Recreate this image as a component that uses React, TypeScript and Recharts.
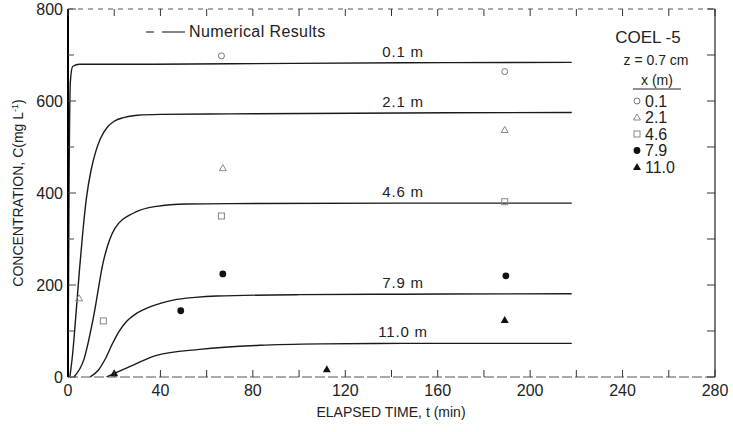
import React from 'react';
import { ComposedChart, Line, Scatter, XAxis, YAxis, LabelList } from 'recharts';

const FONT = '"Liberation Sans", Arial, sans-serif';
const INK = '#222';

// curve labels (distance x, m) and the time at which they are written
const curveNames = ['0.1 m', '2.1 m', '4.6 m', '7.9 m', '11.0 m'];
const legendNames = ['0.1', '2.1', '4.6', '7.9', '11.0'];
const labelT = 145;

// numerical results, t (min) vs C (mg/L)
const t01 = [0, 0.5, 1, 2, 5, 30, 70, 145, 218];
const c01 = [0, 450, 640, 675, 680, 680, 681, 683, 684];
const t21 = [0.8, 2, 3.5, 5, 6.5, 8, 10, 12, 14, 17, 20, 24, 30, 40, 70, 145, 218];
const c21 = [0, 50, 140, 235, 320, 390, 450, 490, 518, 543, 556, 564, 569, 571, 572, 574, 575];
const t46 = [2.5, 7, 10.9, 15.3, 20.3, 28.2, 38.3, 51.3, 70, 145, 218];
const c46 = [0, 40, 127, 251, 323, 356, 371, 376, 377, 378, 378];
const t79 = [9.5, 13, 16, 19, 22, 25.4, 29, 33, 40, 45.5, 55, 64.3, 100, 145, 218];
const c79 = [0, 14, 38, 70, 98, 121, 136, 147, 160, 167, 173, 176, 179, 180, 181];
const t110 = [16.7, 22, 28.2, 38.3, 57, 83, 110, 145, 218];
const c110 = [0, 12, 26, 47, 60, 69, 72, 73, 73];

// measured values
const m01t = [66.4, 189];
const m01c = [698, 664];
const m21t = [4.8, 67, 189];
const m21c = [171, 454, 537];
const m46t = [15.3, 66.4, 189];
const m46c = [122, 350, 381];
const m79t = [48.8, 67, 189.5];
const m79c = [144, 224, 220];
const m110t = [20, 112, 189];
const m110c = [8, 17, 124];

// ticks
const xTicks = [0, 20, 40, 60, 80, 100, 120, 140, 160, 180, 200, 220, 240, 260, 280];
const yTicks = [0, 100, 200, 300, 400, 500, 600, 700, 800];

const curve = (ts: number[], cs: number[], name: string) =>
  ts.map((t, i) => ({ t, c: cs[i], label: t === labelT ? name : undefined }));
const points = (ts: number[], cs: number[]) => ts.map((t, i) => ({ t, c: cs[i] }));

const curves = [
  curve(t01, c01, curveNames[0]),
  curve(t21, c21, curveNames[1]),
  curve(t46, c46, curveNames[2]),
  curve(t79, c79, curveNames[3]),
  curve(t110, c110, curveNames[4]),
];

const measured = [
  points(m01t, m01c),
  points(m21t, m21c),
  points(m46t, m46c),
  points(m79t, m79c),
  points(m110t, m110c),
];

// marker glyphs
const OpenCircle = ({ cx, cy }: any) => <circle cx={cx} cy={cy} r={3} fill="#fff" stroke="#777" strokeWidth={1} />;
const OpenTriangle = ({ cx, cy }: any) => (
  <polygon points={`${cx},${cy - 3.5} ${cx - 3.5},${cy + 2.5} ${cx + 3.5},${cy + 2.5}`} fill="none" stroke="#888" strokeWidth={1} />
);
const OpenSquare = ({ cx, cy }: any) => (
  <rect x={cx - 3} y={cy - 3} width={6} height={6} fill="none" stroke="#888" strokeWidth={1} />
);
const Dot = ({ cx, cy }: any) => <circle cx={cx} cy={cy} r={3.4} fill="#111" />;
const SolidTriangle = ({ cx, cy }: any) => (
  <polygon points={`${cx},${cy - 4} ${cx - 4},${cy + 3} ${cx + 4},${cy + 3}`} fill="#111" />
);
const shapes = [OpenCircle, OpenTriangle, OpenSquare, Dot, SolidTriangle];

const LeftTick = ({ x, y, payload }: any) => {
  const major = payload.value % 200 === 0;
  return (
    <g>
      <line x1={x} x2={x + (major ? 8 : 6)} y1={y} y2={y} stroke="#444" strokeWidth={1} />
      {major && (
        <text x={x - 5} y={y} dy={5.5} textAnchor="end" fontSize={16} fontFamily={FONT} fill={INK}>
          {payload.value}
        </text>
      )}
    </g>
  );
};

const RightTick = ({ x, y }: any) => <line x1={x} x2={x - 8} y1={y} y2={y} stroke="#333" strokeWidth={1} />;

const BottomTick = ({ x, y, payload }: any) => (
  <g>
    {payload.value > 0 && <line x1={x} x2={x} y1={y} y2={y - 7} stroke="#333" strokeWidth={1} />}
    {payload.value % 40 === 0 && (
      <text x={x} y={y + 19} textAnchor="middle" fontSize={16} fontFamily={FONT} fill={INK}>
        {payload.value}
      </text>
    )}
  </g>
);

const TopTick = ({ x, y }: any) => <line x1={x} x2={x} y1={y} y2={y + 7} stroke="#333" strokeWidth={1} />;

const CurveLabel = ({ x, y, value }: any) =>
  value ? (
    <text x={x} y={y - 6} textAnchor="middle" fontSize={15} fontFamily={FONT} fill={INK} letterSpacing={0.8}>
      {value}
    </text>
  ) : null;

export default function App() {
  return (
    <div style={{ position: 'relative', width: 733, height: 432, background: '#fff' }}>
      <style>{'body{margin:0}'}</style>
      <ComposedChart width={733} height={432} margin={{ top: 8, right: 0, bottom: 25, left: 8 }}>
        <XAxis
          dataKey="t"
          type="number"
          domain={[0, 280]}
          ticks={xTicks}
          interval={0}
          height={30}
          tickSize={0}
          tickMargin={0}
          tickLine={false}
          tick={<BottomTick />}
          axisLine={{ stroke: '#555', strokeWidth: 1, strokeDasharray: '10 3' }}
          allowDataOverflow
        />
        <XAxis
          xAxisId="top"
          orientation="top"
          dataKey="t"
          type="number"
          domain={[0, 280]}
          ticks={xTicks}
          interval={0}
          height={1}
          tickSize={0}
          tickMargin={0}
          tickLine={false}
          tick={<TopTick />}
          axisLine={{ stroke: '#555', strokeWidth: 1, strokeDasharray: '5 5' }}
          allowDataOverflow
        />
        <YAxis
          dataKey="c"
          type="number"
          domain={[0, 800]}
          ticks={yTicks}
          interval={0}
          width={60}
          tickSize={0}
          tickMargin={0}
          tickLine={false}
          tick={<LeftTick />}
          axisLine={{ stroke: '#000', strokeWidth: 2 }}
          allowDataOverflow
        />
        <YAxis
          yAxisId="right"
          orientation="right"
          type="number"
          domain={[0, 800]}
          ticks={yTicks}
          interval={0}
          width={18}
          tickSize={0}
          tickMargin={0}
          tickLine={false}
          tick={<RightTick />}
          axisLine={{ stroke: '#222', strokeWidth: 1.2 }}
          allowDataOverflow
        />
        {curves.map((d, i) => (
          <Line
            key={`curve-${i}`}
            data={d}
            dataKey="c"
            type="monotone"
            stroke="#1a1a1a"
            strokeWidth={1.4}
            dot={false}
            activeDot={false}
            isAnimationActive={false}
          >
            <LabelList dataKey="label" content={<CurveLabel />} />
          </Line>
        ))}
        {measured.map((d, i) => (
          <Scatter
            key={`meas-${i}`}
            data={d}
            dataKey="c"
            shape={shapes[i]}
            isAnimationActive={false}
          />
        ))}
      </ComposedChart>

      <svg width={733} height={432} style={{ position: 'absolute', left: 0, top: 0, pointerEvents: 'none' }}>
        {/* axis titles */}
        <text
          transform="rotate(-90)"
          x={-193}
          y={23}
          textAnchor="middle"
          fontSize={14}
          fontFamily={FONT}
          fill={INK}
        >
          CONCENTRATION, C(mg L<tspan dy={-5} fontSize={9}>-1</tspan>
          <tspan dy={5}>)</tspan>
        </text>
        <text x={391} y={417} textAnchor="middle" fontSize={14} fontFamily={FONT} fill={INK}>
          ELAPSED TIME, t (min)
        </text>

        {/* numerical results key */}
        <line x1={146} x2={154} y1={32} y2={32} stroke="#333" strokeWidth={1.2} />
        <line x1={162} x2={185} y1={32} y2={32} stroke="#333" strokeWidth={1.2} />
        <text x={189} y={37} fontSize={16} fontFamily={FONT} fill={INK} letterSpacing={0.4}>
          Numerical Results
        </text>

        {/* run legend */}
        <text x={648} y={43} textAnchor="middle" fontSize={17} fontFamily={FONT} fill={INK}>
          COEL -5
        </text>
        <text x={656} y={65} textAnchor="middle" fontSize={14} fontFamily={FONT} fill={INK}>
          z = 0.7 cm
        </text>
        <text x={657} y={85} textAnchor="middle" fontSize={14} fontFamily={FONT} fill={INK}>
          x (m)
        </text>
        <line x1={633} x2={681} y1={89} y2={89} stroke="#222" strokeWidth={1} />
        {legendNames.map((n, i) => {
          const y = 101 + i * 16.5;
          const Shape = shapes[i];
          return (
            <g key={n}>
              <Shape cx={637} cy={y} />
              <text x={645} y={y + 5.5} fontSize={16} fontFamily={FONT} fill={INK}>
                {n}
              </text>
            </g>
          );
        })}
      </svg>
    </div>
  );
}
